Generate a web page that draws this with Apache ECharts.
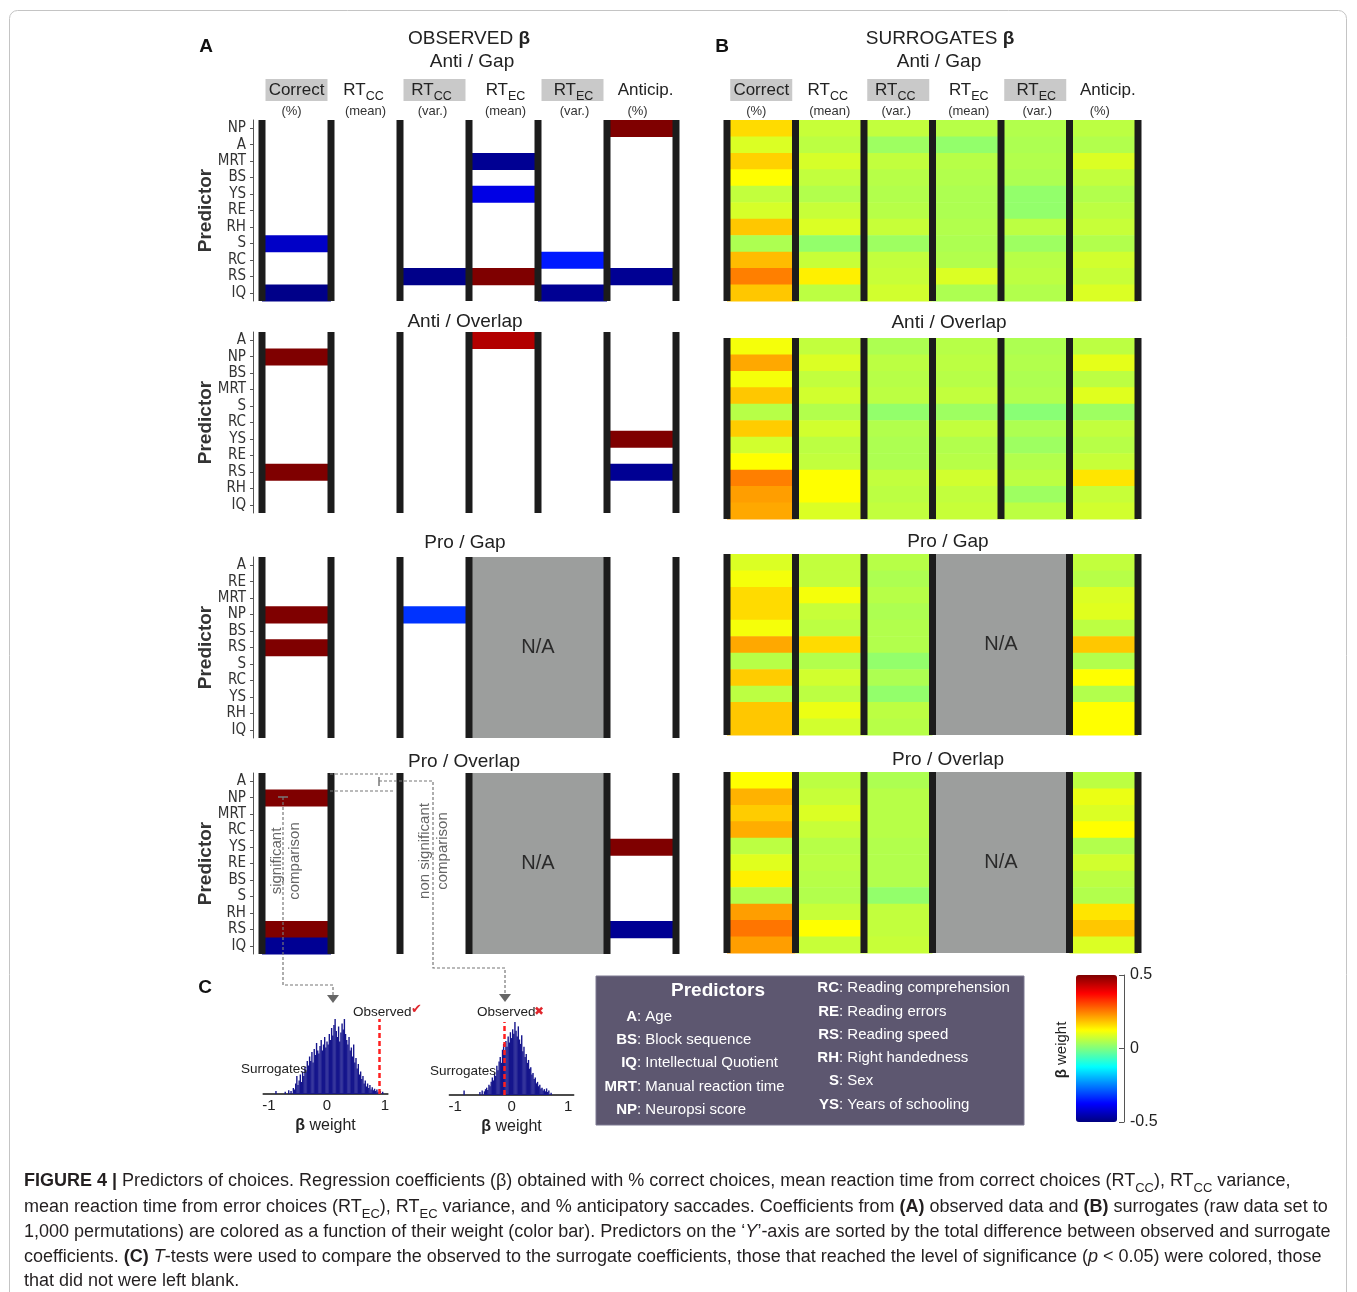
<!DOCTYPE html>
<html><head><meta charset="utf-8">
<script src="https://cdn.jsdelivr.net/npm/echarts@6/dist/echarts.min.js"></script>
<style>html,body{margin:0;padding:0;background:#fff}#c{width:1357px;height:1292px}</style>
</head><body><div id="c"></div>
<script>
// ---------------- DATA ----------------
const columns = ['Correct (%)', 'RT_CC (mean)', 'RT_CC (var.)', 'RT_EC (mean)', 'RT_EC (var.)', 'Anticip. (%)'];
const rowsAntiGap = ['NP','A','MRT','BS','YS','RE','RH','S','RC','RS','IQ'];
const rowsAntiOverlap = ['A','NP','BS','MRT','S','RC','YS','RE','RS','RH','IQ'];
const rowsProGap = ['A','RE','MRT','NP','BS','RS','S','RC','YS','RH','IQ'];
const rowsProOverlap = ['A','NP','MRT','RC','YS','RE','BS','S','RH','RS','IQ'];

// Observed significant coefficients: [column index, predictor, beta]
const obsAntiGap = [[0,'S',-0.43],[0,'IQ',-0.49],[2,'RS',-0.49],[3,'MRT',-0.48],[3,'YS',-0.40],[3,'RS',0.5],[4,'RC',-0.35],[4,'IQ',-0.48],[5,'NP',0.5],[5,'RS',-0.48]];
const obsAntiOverlap = [[0,'NP',0.5],[0,'RS',0.5],[3,'A',0.45],[5,'YS',0.5],[5,'RS',-0.48]];
const obsProGap = [[0,'NP',0.5],[0,'RS',0.5],[2,'NP',-0.325]];
const obsProOverlap = [[0,'NP',0.5],[0,'RS',0.5],[0,'IQ',-0.48],[5,'YS',0.5],[5,'RS',-0.48]];

// Surrogate coefficients, one list per column (rows in panel order); null = N/A
const surAntiGap = [
  [0.16,0.09,0.17,0.125,0.065,0.085,0.18,0.045,0.19,0.25,0.18],
  [0.07,0.06,0.085,0.065,0.05,0.07,0.09,0.02,0.07,0.14,0.06],
  [0.065,0.03,0.065,0.055,0.05,0.055,0.07,0.03,0.065,0.07,0.08],
  [0.055,0.02,0.055,0.05,0.045,0.045,0.05,0.045,0.05,0.09,0.045],
  [0.05,0.045,0.05,0.045,0.02,0.02,0.06,0.03,0.055,0.06,0.05],
  [0.06,0.05,0.09,0.065,0.05,0.06,0.07,0.05,0.08,0.07,0.09]
];
const surAntiOverlap = [
  [0.115,0.21,0.115,0.18,0.055,0.175,0.08,0.125,0.25,0.22,0.21],
  [0.065,0.09,0.065,0.08,0.05,0.08,0.06,0.065,0.125,0.125,0.09],
  [0.045,0.06,0.055,0.06,0.02,0.05,0.045,0.045,0.065,0.06,0.065],
  [0.055,0.06,0.055,0.065,0.03,0.065,0.05,0.055,0.08,0.065,0.07],
  [0.045,0.05,0.045,0.05,0.01,0.045,0.03,0.05,0.06,0.03,0.06],
  [0.06,0.10,0.06,0.095,0.03,0.065,0.055,0.07,0.15,0.07,0.08]
];
const surProGap = [
  [0.09,0.115,0.16,0.16,0.115,0.21,0.055,0.175,0.06,0.18,0.18],
  [0.065,0.065,0.115,0.07,0.06,0.16,0.05,0.08,0.06,0.105,0.08],
  [0.055,0.045,0.055,0.045,0.05,0.05,0.02,0.045,0.02,0.06,0.055],
  null,
  null,
  [0.065,0.055,0.09,0.095,0.06,0.18,0.05,0.125,0.05,0.125,0.125]
];
const surProOverlap = [
  [0.125,0.2,0.175,0.205,0.06,0.095,0.14,0.05,0.22,0.26,0.22],
  [0.06,0.07,0.09,0.07,0.055,0.06,0.055,0.05,0.07,0.125,0.07],
  [0.045,0.055,0.055,0.055,0.05,0.05,0.05,0.02,0.065,0.065,0.07],
  null,
  null,
  [0.06,0.105,0.09,0.125,0.05,0.08,0.06,0.05,0.15,0.18,0.09]
];

// Column separators (boundary indices) and N/A spans [fromCol, row, toCol]
const separatorsFull = [0,1,2,3,4,5,6];
const separatorsNA = [0,1,2,3,5,6];
const naSpan = [[3,0,5]];

// Section C histograms: [beta bin centre, relative count]
const histSignificant = [[-0.88,4],[-0.72,3],[-0.66,5],[-0.62,4],[-0.58,8],[-0.56,6],[-0.54,14],[-0.52,24],[-0.50,12],[-0.48,18],[-0.46,26],[-0.44,16],[-0.42,30],[-0.40,24],[-0.38,36],[-0.36,30],[-0.34,44],[-0.32,38],[-0.30,50],[-0.28,44],[-0.26,56],[-0.24,42],[-0.22,60],[-0.20,52],[-0.18,68],[-0.16,58],[-0.14,54],[-0.12,64],[-0.10,72],[-0.08,58],[-0.06,66],[-0.04,76],[-0.02,62],[0.00,70],[0.02,66],[0.04,80],[0.06,72],[0.08,88],[0.10,78],[0.12,92],[0.14,100],[0.16,84],[0.18,76],[0.20,90],[0.22,70],[0.24,82],[0.26,94],[0.28,86],[0.30,100],[0.32,80],[0.34,72],[0.36,66],[0.38,76],[0.40,58],[0.42,62],[0.44,50],[0.46,66],[0.48,42],[0.50,48],[0.52,34],[0.54,40],[0.56,26],[0.58,30],[0.60,20],[0.62,24],[0.64,14],[0.66,18],[0.68,10],[0.70,14],[0.72,8],[0.74,12],[0.76,6],[0.78,9],[0.80,5],[0.82,7],[0.84,4],[0.86,6],[0.88,3],[0.92,4],[0.96,3]];
const observedSignificant = 0.9;
const histNonSignificant = [[-0.84,6],[-0.56,4],[-0.52,6],[-0.48,5],[-0.46,8],[-0.44,10],[-0.42,7],[-0.40,14],[-0.38,12],[-0.36,18],[-0.34,24],[-0.32,20],[-0.30,30],[-0.28,26],[-0.26,40],[-0.24,34],[-0.22,46],[-0.20,52],[-0.18,44],[-0.16,62],[-0.14,70],[-0.12,58],[-0.10,74],[-0.08,66],[-0.06,80],[-0.04,72],[-0.02,86],[0.00,78],[0.02,90],[0.04,84],[0.06,100],[0.08,88],[0.10,80],[0.12,94],[0.14,76],[0.16,70],[0.18,82],[0.20,60],[0.22,66],[0.24,52],[0.26,56],[0.28,44],[0.30,48],[0.32,36],[0.34,38],[0.36,28],[0.38,30],[0.40,22],[0.42,24],[0.44,16],[0.46,18],[0.48,12],[0.50,14],[0.52,9],[0.54,10],[0.56,6],[0.58,8],[0.60,5],[0.62,9],[0.64,4],[0.66,6],[0.70,3]];
const observedNonSignificant = -0.13;

const colorTicks = [-0.5, 0, 0.5];

// -------------- LAYOUT / STYLE --------------
const FONT = "'Liberation Sans', Arial, Helvetica, sans-serif";
const NARROW = "'Liberation Sans Narrow', 'DejaVu Sans Condensed', 'Liberation Sans', sans-serif";
const JET = ['#00007f','#0000ff','#007fff','#00ffff','#7fff7f','#ffff00','#ff7f00','#ff0000','#7f0000'];
const A_LEFT = 262, A_W = 414, B_LEFT = 727, B_W = 411;
const A_TOPS = [120, 332, 557, 773], B_TOPS = [120, 338, 554, 772];
const A_H = 181, B_H = 181;

const panelRows = [rowsAntiGap, rowsAntiOverlap, rowsProGap, rowsProOverlap];
const panelObs = [obsAntiGap, obsAntiOverlap, obsProGap, obsProOverlap];
const panelSur = [surAntiGap, surAntiOverlap, surProGap, surProOverlap];
const panelSep = [separatorsFull, separatorsFull, separatorsNA, separatorsNA];
const panelNA = [[], [], naSpan, naSpan];

function surData(cols) {
  const out = [];
  cols.forEach((col, c) => { if (col) col.forEach((v, r) => out.push([c, r, v])); });
  return out;
}

function renderCell(params, api) {
  const c = api.value(0), r = api.value(1);
  const a = api.coord([c, r]), b = api.coord([c + 1, r]);
  const h = api.size([0, 1])[1];
  return { type: 'rect', shape: { x: a[0], y: a[1] - h / 2, width: b[0] - a[0], height: h + 0.6 }, style: { fill: api.visual('color') } };
}
function renderSep(params, api) {
  const x = api.coord([api.value(0), 0])[0];
  const cs = params.coordSys;
  return { type: 'rect', shape: { x: x - 3.5, y: cs.y, width: 7, height: cs.height }, style: { fill: '#1c1c1c' } };
}
function renderNA(params, api) {
  const a = api.coord([api.value(0), 0])[0], b = api.coord([api.value(2), 0])[0];
  const cs = params.coordSys;
  return { type: 'group', children: [
    { type: 'rect', shape: { x: a, y: cs.y, width: b - a, height: cs.height }, style: { fill: '#9c9e9d' } },
    { type: 'text', style: { text: 'N/A', x: (a + b) / 2, y: cs.y + cs.height / 2, align: 'center', textAlign: 'center', verticalAlign: 'middle', textVerticalAlign: 'middle', fontSize: 20, fontFamily: FONT, fill: '#2a2a2a' } }
  ] };
}

const grids = [], xAxes = [], yAxes = [], series = [], cellIdx = [];
function addPanel(gi, left, top, width, height, rows, cellData, seps, na, showY) {
  grids.push({ left, top, width, height, outerBoundsMode: 'none' });
  xAxes.push({ type: 'value', gridIndex: gi, min: 0, max: 6, show: false });
  yAxes.push(showY ? {
    type: 'category', gridIndex: gi, data: rows, inverse: true, offset: 9,
    axisLine: { show: true, onZero: false, lineStyle: { color: '#555', width: 1 } },
    axisTick: { show: true, alignWithLabel: true, interval: 0, length: 3, lineStyle: { color: '#555' } },
    axisLabel: { interval: 0, margin: 7, fontSize: 15, color: '#333', fontFamily: NARROW },
    splitLine: { show: false },
    name: 'Predictor', nameLocation: 'middle', nameGap: 38, nameRotate: 90, nameMoveOverlap: false,
    nameTextStyle: { fontSize: 19, fontWeight: 'bold', color: '#333', fontFamily: FONT }
  } : { type: 'category', gridIndex: gi, data: rows, inverse: true, show: false });
  cellIdx.push(series.length);
  series.push({ type: 'custom', xAxisIndex: gi, yAxisIndex: gi, renderItem: renderCell, data: cellData, z: 2, silent: true });
  if (na.length) series.push({ type: 'custom', xAxisIndex: gi, yAxisIndex: gi, renderItem: renderNA, data: na, z: 3, silent: true });
  series.push({ type: 'custom', xAxisIndex: gi, yAxisIndex: gi, renderItem: renderSep, data: seps.map(s => [s, 0]), z: 4, silent: true });
}
for (let k = 0; k < 4; k++) addPanel(k, A_LEFT, A_TOPS[k], A_W, A_H, panelRows[k], panelObs[k], panelSep[k], panelNA[k], true);
for (let k = 0; k < 4; k++) addPanel(4 + k, B_LEFT, B_TOPS[k], B_W, B_H, panelRows[k], surData(panelSur[k]), panelSep[k], panelNA[k], false);

// histograms
function addHist(gi, left, top, width, height, min, max, data, observed) {
  grids.push({ left, top, width, height, outerBoundsMode: 'none' });
  xAxes.push({ type: 'value', gridIndex: gi, min, max,
    axisLine: { show: true, onZero: false, lineStyle: { color: '#111', width: 1.5 } },
    axisTick: { show: false }, splitLine: { show: false },
    axisLabel: { customValues: [-1, 0, 1], fontSize: 15, color: '#222', margin: 4, fontFamily: FONT },
    name: '{b|β} weight', nameLocation: 'middle', nameGap: 24,
    nameTextStyle: { fontSize: 16, color: '#222', fontFamily: FONT, rich: { b: { fontSize: 16, fontWeight: 'bold', color: '#222', fontFamily: FONT } } } });
  yAxes.push({ type: 'value', gridIndex: gi, min: 0, max: 100, show: false });
  series.push({ type: 'bar', xAxisIndex: gi, yAxisIndex: gi, data, barWidth: 1.4, silent: true,
    itemStyle: { color: '#15158c' },
    markLine: { silent: true, symbol: ['none', 'none'], label: { show: false }, animation: false,
      lineStyle: { color: '#ff1f1f', type: [5, 3], width: 2.5 }, data: [{ xAxis: observed }] } });
}
addHist(8, 263.2, 1019, 124.7, 75, -1.1, 1.05, histSignificant, observedSignificant);
addHist(9, 449.4, 1022, 124.3, 73, -1.1, 1.1, histNonSignificant, observedNonSignificant);

// colour bar axis
grids.push({ left: 1076, top: 975, width: 41, height: 147, outerBoundsMode: 'none' });
xAxes.push({ type: 'value', gridIndex: 10, show: false, min: 0, max: 1 });
yAxes.push({ type: 'value', gridIndex: 10, position: 'right', offset: 7, min: colorTicks[0], max: colorTicks[2], interval: 0.5,
  axisLine: { show: true, onZero: false, lineStyle: { color: '#555', width: 1 } },
  axisTick: { show: true, inside: true, length: 5, lineStyle: { color: '#555' } },
  axisLabel: { fontSize: 16, color: '#222', margin: 6, fontFamily: FONT },
  splitLine: { show: false } });

// -------------- GRAPHICS (text, annotations) --------------
function T(x, y, text, o) {
  o = o || {};
  const al = o.align || 'center', va = o.valign || 'middle';
  const st = { text, fill: o.color || '#222', fontSize: o.size || 16, fontFamily: o.family || FONT,
    fontWeight: o.weight || 'normal', fontStyle: o.fstyle || 'normal',
    align: al, textAlign: al, verticalAlign: va, textVerticalAlign: va };
  if (o.lineHeight) st.lineHeight = o.lineHeight;
  if (o.rich) st.rich = o.rich;
  return { type: 'text', x, y, rotation: o.rotation || 0, z: 100, silent: true, style: st };
}
function tok(size, extra) {
  return Object.assign({ fontSize: size, fontFamily: FONT, fill: '#222', color: '#222', lineHeight: Math.ceil(size) }, extra || {});
}
function richSet(size, color, subSize) {
  color = color || '#222';
  subSize = subSize || 12;
  return {
    m: tok(size, { fill: color, color }),
    b: tok(size, { fontWeight: 'bold', fill: color, color }),
    i: tok(size, { fontStyle: 'italic', fill: color, color }),
    s: tok(subSize, { fill: color, color, lineHeight: subSize, padding: [Math.round(size * 0.85), 0, 0, 0] })
  };
}

const G = [];
G.push({ type: 'rect', shape: { x: 9.5, y: 10.5, width: 1337, height: 1300, r: 8 }, style: { fill: 'none', stroke: '#c4c4c4', lineWidth: 1 }, z: 0, silent: true });
G.push(T(206, 47, 'A', { size: 19, weight: 'bold', color: '#111' }));
G.push(T(722, 47, 'B', { size: 19, weight: 'bold', color: '#111' }));
G.push(T(205, 988, 'C', { size: 19, weight: 'bold', color: '#111' }));

// Titles
G.push(T(469, 39, '{m|OBSERVED }{b|β}', { size: 19, rich: richSet(19, '#222') }));
G.push(T(940, 39, '{m|SURROGATES }{b|β}', { size: 19, rich: richSet(19, '#222') }));
const panelTitles = ['Anti / Gap', 'Anti / Overlap', 'Pro / Gap', 'Pro / Overlap'];
const titleYA = [62, 322, 543, 762], titleYB = [62, 323, 542, 760];
const titleXA = [472, 465, 465, 464], titleXB = [939, 949, 948, 948];
panelTitles.forEach((t, k) => { G.push(T(titleXA[k], titleYA[k], t, { size: 19 })); G.push(T(titleXB[k], titleYB[k], t, { size: 19 })); });

// Column headers
const headMain = ['Correct', 'RT', 'RT', 'RT', 'RT', 'Anticip.'];
const headSub = ['', 'CC', 'CC', 'EC', 'EC', ''];
const headUnit = ['(%)', '(mean)', '(var.)', '(mean)', '(var.)', '(%)'];
const headShade = [true, false, true, false, true, false];
const unitShift = [-5, 0, -2, 2, 2, -4];
const mainShift = [0, -2, -3, 2, 1, 4];
[[A_LEFT, A_W], [B_LEFT, B_W]].forEach(([L, W]) => {
  for (let i = 0; i < 6; i++) {
    const cx = L + (i + 0.5) * W / 6;
    if (headShade[i]) G.push({ type: 'rect', shape: { x: cx - 31, y: 79, width: 62, height: 22 }, style: { fill: '#c9c9c9' }, z: 90, silent: true });
    const txt = headSub[i] ? '{m|' + headMain[i] + '}{s|' + headSub[i] + '}' : '{m|' + headMain[i] + '}';
    G.push(T(cx + mainShift[i], 90, txt, { size: 17, rich: richSet(17, '#222', 12.5) }));
    G.push(T(cx + unitShift[i], 111, headUnit[i], { size: 13, color: '#333' }));
  }
});

// Comparison annotations
const dash = { stroke: '#777', lineWidth: 1.2, lineDash: [3, 2], fill: 'none' };
G.push({ type: 'polyline', shape: { points: [[283, 797], [283, 985], [333, 985], [333, 995]] }, style: dash, z: 95, silent: true });
G.push({ type: 'line', shape: { x1: 278, y1: 797, x2: 288, y2: 797 }, style: { stroke: '#777', lineWidth: 1.5 }, z: 95, silent: true });
G.push({ type: 'polygon', shape: { points: [[327, 995], [339, 995], [333, 1003]] }, style: { fill: '#666' }, z: 95, silent: true });
G.push({ type: 'polyline', shape: { points: [[330, 774], [393, 774]] }, style: dash, z: 95, silent: true });
G.push({ type: 'polyline', shape: { points: [[330, 791], [393, 791]] }, style: dash, z: 95, silent: true });
G.push({ type: 'line', shape: { x1: 379, y1: 777, x2: 379, y2: 786 }, style: { stroke: '#777', lineWidth: 1.5 }, z: 95, silent: true });
G.push({ type: 'polyline', shape: { points: [[379, 781], [433, 781], [433, 968], [505, 968], [505, 994]] }, style: dash, z: 95, silent: true });
G.push({ type: 'polygon', shape: { points: [[499, 994], [511, 994], [505, 1002]] }, style: { fill: '#666' }, z: 95, silent: true });
G.push(T(286, 861, 'significant\ncomparison', { size: 15, color: '#666', rotation: Math.PI / 2, lineHeight: 18 }));
G.push(T(434, 851, 'non significant\ncomparison', { size: 15, color: '#666', rotation: Math.PI / 2, lineHeight: 18 }));

// Histogram labels
G.push(T(353, 1012, 'Observed', { size: 13.5, align: 'left' }));
G.push(T(411, 1010, '✔', { size: 13, align: 'left', color: '#e0262c', family: "'DejaVu Sans', sans-serif" }));
G.push(T(477, 1012, 'Observed', { size: 13.5, align: 'left' }));
G.push(T(534, 1012, '✖', { size: 12, align: 'left', color: '#e0262c', family: "'DejaVu Sans', sans-serif" }));
G.push(T(307, 1069, 'Surrogates', { size: 13.5, align: 'right' }));
G.push(T(496, 1071, 'Surrogates', { size: 13.5, align: 'right' }));

// Predictors legend box
G.push({ type: 'rect', shape: { x: 596, y: 976, width: 428, height: 149 }, style: { fill: '#5d5770', stroke: '#7d7890', lineWidth: 1 }, z: 90, silent: true });
G.push(T(718, 991, 'Predictors', { size: 19, weight: 'bold', color: '#fff' }));
const legAbbrL = ['A', 'BS', 'IQ', 'MRT', 'NP'];
const legDescL = ['Age', 'Block sequence', 'Intellectual Quotient', 'Manual reaction time', 'Neuropsi score'];
const legYL = [1017, 1040, 1063, 1087, 1110];
const legAbbrR = ['RC', 'RE', 'RS', 'RH', 'S', 'YS'];
const legDescR = ['Reading comprehension', 'Reading errors', 'Reading speed', 'Right handedness', 'Sex', 'Years of schooling'];
const legYR = [988, 1012, 1035, 1058, 1081, 1105];
legAbbrL.forEach((a, i) => { G.push(T(637, legYL[i], a, { size: 15, weight: 'bold', color: '#fff', align: 'right' })); G.push(T(637, legYL[i], ': ' + legDescL[i], { size: 15, color: '#fff', align: 'left' })); });
legAbbrR.forEach((a, i) => { G.push(T(839, legYR[i], a, { size: 15, weight: 'bold', color: '#fff', align: 'right' })); G.push(T(839, legYR[i], ': ' + legDescR[i], { size: 15, color: '#fff', align: 'left' })); });

// Colour-bar name
G.push(T(1062, 1050, '{b|β}{m| weight}', { size: 15, rotation: Math.PI / 2, rich: richSet(15, '#222') }));

// Caption
const capLines = [
  '{b|FIGURE 4 |}{m| Predictors of choices. Regression coefficients (β) obtained with % correct choices, mean reaction time from correct choices (RT}{s|CC}{m|), RT}{s|CC}{m| variance,}',
  '{m|mean reaction time from error choices (RT}{s|EC}{m|), RT}{s|EC}{m| variance, and % anticipatory saccades. Coefficients from }{b|(A)}{m| observed data and }{b|(B)}{m| surrogates (raw data set to}',
  '{m|1,000 permutations) are colored as a function of their weight (color bar). Predictors on the ‘}{i|Y}{m|’-axis are sorted by the total difference between observed and surrogate}',
  '{m|coefficients. }{b|(C)}{m| }{i|T}{m|-tests were used to compare the observed to the surrogate coefficients, those that reached the level of significance (}{i|p}{m| < 0.05) were colored, those}',
  '{m|that did not were left blank.}'
];
const capY = [1181, 1207, 1232, 1257, 1281];
capLines.forEach((l, i) => G.push(T(24, capY[i], l, { size: 18, align: 'left', color: '#231f20', rich: richSet(18, '#231f20', 13) })));

// -------------- CHART --------------
const chart = echarts.init(document.getElementById('c'), null, { renderer: 'canvas', width: 1357, height: 1292 });
chart.setOption({
  animation: false,
  backgroundColor: '#fff',
  grid: grids, xAxis: xAxes, yAxis: yAxes, series,
  visualMap: {
    type: 'continuous', min: -0.5, max: 0.5, dimension: 2, seriesIndex: cellIdx,
    left: 1076, top: 975, itemWidth: 41, itemHeight: 147, padding: 0,
    calculable: false, hoverLink: false, text: null, showLabel: false,
    inRange: { color: JET }, textStyle: { color: 'rgba(0,0,0,0)' }
  },
  graphic: G
});
</script></body></html>
